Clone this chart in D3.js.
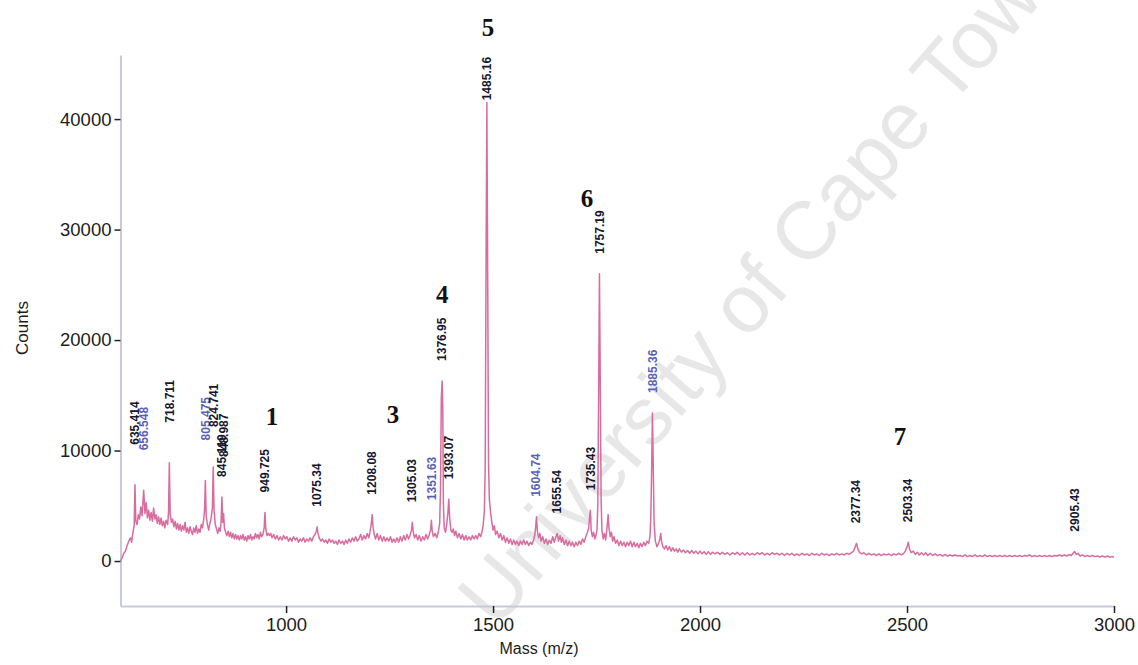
<!DOCTYPE html>
<html lang="en">
	<head>
		<meta charset="utf-8">
		<title>Mass spectrum</title>
		<script type="text/javascript" src="https://cdn.jsdelivr.net/npm/d3@7"></script>
		<style type="text/css">
			body { margin: 0; background: #fff; }
			.axis text { font-family: "Liberation Sans", Arial, sans-serif; font-size: 18.5px; fill: #1c1c1c; }
		</style>
	</head>
	<body>
		<script type="text/javascript">

			//Spectrum trace: [mass, counts]
			var spectrum = [
				[600,0],[604,300],[608,700],[612,900],[616,1400],[620,1800],[624,2100],[627,1700],[630,2600],[633,3200],[635,6900],[637,3600],[640,3300],
				[643,4200],[646,3800],[649,4900],[652,4100],[656,6400],[659,4300],[662,5300],[665,3900],[668,4600],[671,3700],[674,4400],[677,3600],
				[680,4800],[683,3800],[686,4200],[689,3400],[692,4000],[695,3300],[698,3900],[701,3200],[704,3600],[707,3000],[710,3700],[714,3300],
				[716,4400],[718,8900],[720,4300],[723,3500],[726,3800],[729,3100],[732,3600],[735,2900],[738,3400],[741,2800],[744,3300],[747,2700],
				[750,3200],[753,2800],[756,3500],[759,2600],[762,3000],[765,2500],[768,3100],[771,2700],[774,2400],[777,3000],[780,2600],[783,3200],
				[786,2500],[789,2900],[792,2600],[795,3300],[798,3000],[801,3800],[803,4600],[805,7300],[807,4100],[810,3300],[813,2800],[816,3400],
				[819,3900],[822,4800],[824,8500],[826,4600],[829,3300],[832,2900],[835,2500],[838,3000],[841,2700],[843,3600],[845,5800],[847,3500],
				[849,4300],[851,3000],[854,2600],[857,2300],[860,2700],[863,2200],[866,2600],[869,2100],[872,2500],[875,2000],[878,2400],[881,2000],
				[884,2300],[887,1900],[890,2300],[893,2000],[896,2400],[899,1900],[902,2200],[905,1800],[908,2300],[911,2000],[914,2400],[917,1900],
				[920,2200],[923,2000],[926,2500],[929,2100],[932,2400],[935,2000],[938,2600],[941,2200],[944,2400],[947,3000],[949,4400],[951,2900],
				[954,2300],[957,2500],[960,2300],[963,2500],[966,2100],[970,2400],[974,2000],[978,2300],[982,1900],[986,2200],[990,1900],[994,2300],
				[998,2000],[1002,2200],[1006,1800],[1010,2100],[1014,1800],[1018,2200],[1022,1900],[1026,2100],[1030,1700],[1034,2000],[1038,1800],
				[1042,2100],[1046,1700],[1050,2000],[1054,1800],[1058,2100],[1062,1800],[1066,2200],[1070,2400],[1073,2700],[1075,3100],[1077,2500],
				[1080,2100],[1084,1800],[1088,2000],[1092,1700],[1096,1900],[1100,1600],[1104,2000],[1108,1700],[1112,1900],[1116,1600],[1120,1800],
				[1124,1500],[1128,1900],[1132,1600],[1136,1800],[1140,1500],[1144,1900],[1148,1600],[1152,2000],[1156,1700],[1160,2100],[1164,1800],
				[1168,2200],[1172,1800],[1176,2000],[1180,2400],[1184,1900],[1188,2300],[1192,2000],[1196,2500],[1200,2100],[1203,2700],[1206,3400],
				[1208,4200],[1210,3100],[1213,2400],[1216,2000],[1220,2500],[1224,1900],[1228,2300],[1232,1800],[1236,2200],[1240,1800],[1244,2100],
				[1248,1800],[1252,2200],[1256,1700],[1260,2000],[1264,1700],[1268,2100],[1272,1700],[1276,2200],[1280,1800],[1284,2300],[1288,1900],
				[1292,2400],[1296,2000],[1300,2400],[1303,2800],[1305,3500],[1307,2700],[1310,2100],[1314,2400],[1318,1900],[1322,2300],[1326,1800],
				[1330,2200],[1334,1900],[1338,2400],[1342,2000],[1346,2400],[1349,2800],[1351,3700],[1353,2700],[1356,2200],[1360,2500],[1364,2100],
				[1368,2700],[1371,3400],[1373,6500],[1375,14800],[1377,16300],[1378.5,14000],[1380,5200],[1382,3000],[1385,2600],[1388,3300],[1391,4400],
				[1393,5600],[1395,4000],[1398,2800],[1401,2600],[1404,2900],[1407,2300],[1410,2700],[1414,2100],[1418,2500],[1422,2000],[1426,2400],
				[1430,1900],[1434,2300],[1438,1900],[1442,2200],[1446,1900],[1450,2300],[1454,2000],[1458,2300],[1462,2000],[1466,2500],[1470,2200],
				[1473,2600],[1476,3200],[1479,4500],[1481,8500],[1483,26000],[1485,41500],[1487,26000],[1489,9000],[1491,5600],[1494,4400],[1497,3500],
				[1500,2800],[1503,3200],[1506,2400],[1510,2700],[1514,2100],[1518,2500],[1522,1900],[1526,2300],[1530,1700],[1534,2100],[1538,1600],
				[1542,2000],[1546,1500],[1550,1900],[1554,1500],[1558,1800],[1562,1400],[1566,1800],[1570,1500],[1574,1900],[1578,1500],[1582,1800],
				[1586,1400],[1590,1700],[1594,1500],[1598,1900],[1601,2400],[1603,3100],[1605,4000],[1607,2700],[1610,2100],[1613,2500],[1616,1800],
				[1620,2200],[1624,1600],[1628,2000],[1632,1500],[1636,1900],[1640,1600],[1644,2200],[1648,1700],[1651,2100],[1653,2300],[1655,2500],
				[1658,1800],[1662,2300],[1665,1700],[1668,2100],[1672,1500],[1676,1900],[1680,1400],[1684,1800],[1688,1400],[1692,1700],[1696,1300],
				[1700,1700],[1704,1400],[1708,1800],[1712,1500],[1716,2000],[1720,1700],[1724,2200],[1728,2600],[1731,3000],[1733,3900],[1735,4600],
				[1737,2800],[1740,2200],[1743,2600],[1746,2000],[1749,2400],[1751,2800],[1753,5000],[1755,15000],[1757,26000],[1759,16000],[1761,5500],
				[1763,2800],[1766,2000],[1769,2500],[1772,1900],[1775,2900],[1778,4200],[1780,3000],[1783,2200],[1786,2600],[1789,1800],[1792,2200],
				[1796,1600],[1800,1900],[1804,1400],[1808,1800],[1812,1400],[1816,1700],[1820,1300],[1824,1700],[1828,1400],[1832,1800],[1836,1300],
				[1840,1700],[1844,1300],[1848,1600],[1852,1200],[1856,1600],[1860,1300],[1864,1700],[1868,1400],[1872,1800],[1876,1600],[1879,2200],
				[1881,3800],[1883,8000],[1885,13400],[1887,8500],[1889,3500],[1892,1800],[1896,1300],[1900,1600],[1903,2000],[1905,2500],[1907,1800],
				[1910,1300],[1914,1100],[1918,1400],[1922,1000],[1926,1300],[1930,900],[1934,1200],[1938,900],[1942,1100],[1946,800],[1950,1100],
				[1955,800],[1960,1000],[1965,750],[1970,950],[1975,700],[1980,950],[1985,700],[1990,900],[1995,650],[2000,900],[2005,650],[2010,850],
				[2015,600],[2020,850],[2025,600],[2030,800],[2036,650],[2042,800],[2048,600],[2054,800],[2060,600],[2066,750],[2072,550],[2078,750],
				[2084,600],[2090,800],[2096,550],[2102,750],[2108,550],[2114,750],[2120,550],[2126,700],[2132,550],[2138,750],[2144,600],[2150,750],
				[2156,550],[2162,700],[2168,550],[2174,750],[2180,600],[2186,700],[2192,550],[2198,700],[2204,500],[2210,700],[2216,550],[2222,700],
				[2228,500],[2234,650],[2240,500],[2246,700],[2252,550],[2258,650],[2264,500],[2270,700],[2276,550],[2282,650],[2288,500],[2294,700],
				[2300,550],[2306,650],[2312,500],[2318,650],[2324,550],[2330,700],[2336,550],[2342,650],[2348,550],[2354,700],[2360,600],[2366,750],
				[2371,900],[2375,1300],[2378,1600],[2381,1100],[2385,800],[2390,650],[2396,750],[2402,550],[2408,700],[2414,550],[2420,650],[2426,500],
				[2432,650],[2438,500],[2444,650],[2450,550],[2456,650],[2462,500],[2468,650],[2474,550],[2480,700],[2486,550],[2492,700],[2496,900],
				[2500,1300],[2503,1700],[2506,1100],[2510,750],[2515,900],[2520,600],[2525,800],[2530,550],[2535,750],[2540,550],[2545,750],[2550,500],
				[2556,700],[2562,500],[2568,650],[2574,500],[2580,600],[2586,450],[2592,600],[2598,450],[2604,550],[2610,450],[2616,550],[2622,450],
				[2628,500],[2634,400],[2640,550],[2646,400],[2652,500],[2658,400],[2664,550],[2670,400],[2676,500],[2682,400],[2688,550],[2694,400],
				[2700,500],[2706,400],[2712,500],[2718,400],[2724,500],[2730,400],[2736,500],[2742,400],[2748,500],[2754,400],[2760,500],[2766,400],
				[2772,500],[2778,400],[2784,500],[2790,450],[2796,550],[2802,400],[2808,500],[2814,400],[2820,500],[2826,400],[2832,500],[2838,400],
				[2844,500],[2850,400],[2856,500],[2862,450],[2868,550],[2874,450],[2880,550],[2886,450],[2892,600],[2897,500],[2901,700],[2905,850],
				[2909,600],[2913,700],[2918,450],[2924,550],[2930,400],[2936,500],[2942,400],[2948,500],[2954,400],[2960,450],[2966,350],[2972,450],
				[2978,350],[2984,450],[2990,350],[2996,400],[3000,350]
			];

			//Peak labels (m/z) printed above the peaks
			var peakLabels = ["635.414", "656.548", "718.711", "805.475", "824.741", "845.119", "848.987", "949.725",
							  "1075.34", "1208.08", "1305.03", "1351.63", "1376.95", "1393.07", "1485.16", "1604.74",
							  "1655.54", "1735.43", "1757.19", "1885.36", "2377.34", "2503.34", "2905.43"];
			var raisedLabels = ["635.414", "656.548", "718.711", "805.475", "824.741", "848.987"];	//crowded ones sit higher
			var blueLabels = ["656.548", "805.475", "1351.63", "1604.74", "1885.36"];

			//Numbered peak groups: name, mass, counts
			var groupNames = ["1", "3", "4", "5", "6", "7"];
			var groupMasses = [966, 1258, 1377, 1488, 1727, 2483];
			var groupCounts = [13000, 13200, 24100, 48200, 32800, 11200];

			var xTicks = [1000, 1500, 2000, 2500, 3000];
			var yTicks = [0, 10000, 20000, 30000, 40000];

			//Width and height
			var w = 1138;
			var h = 665;

			var xScale = d3.scaleLinear()
							.domain([600, 3000])
							.range([120.5, 1114]);

			var yScale = d3.scaleLinear()
							.domain([-4070, 45800])
							.range([606, 55]);

			//Create SVG element
			var svg = d3.select("body")
						.append("svg")
						.attr("width", w)
						.attr("height", h);

			//Watermark behind everything
			svg.append("text")
			   .attr("transform", "translate(496,630) rotate(-49)")
			   .attr("font-family", "Liberation Sans, Arial, sans-serif")
			   .attr("font-size", "82px")
			   .attr("fill", "#e7e7e7")
			   .text("University of Cape Town");

			//Axes
			var yAxis = d3.axisLeft(yScale)
							.tickValues(yTicks)
							.tickSize(6)
							.tickSizeOuter(0)
							.tickPadding(3)
							.tickFormat(d3.format("d"));

			var xAxis = d3.axisBottom(xScale)
							.tickValues(xTicks)
							.tickSize(7)
							.tickSizeOuter(0)
							.tickPadding(5)
							.tickFormat(d3.format("d"));

			svg.append("g")
				.attr("class", "y axis")
				.attr("transform", "translate(" + xScale(600) + ",0)")
				.call(yAxis);

			svg.append("g")
				.attr("class", "x axis")
				.attr("transform", "translate(0," + yScale(-4070) + ")")
				.call(xAxis);

			svg.selectAll(".axis .domain")
			   .attr("stroke", "#c7cadf")
			   .attr("stroke-width", 2);
			svg.selectAll(".axis .tick line")
			   .attr("stroke", "#222")
			   .attr("stroke-width", 1.5);

			//Axis titles
			svg.append("text")
			   .attr("transform", "translate(28,328) rotate(-90)")
			   .attr("text-anchor", "middle")
			   .attr("font-family", "Liberation Sans, Arial, sans-serif")
			   .attr("font-size", "17px")
			   .attr("fill", "#1c1c1c")
			   .text("Counts");

			svg.append("text")
			   .attr("x", 539)
			   .attr("y", 654)
			   .attr("text-anchor", "middle")
			   .attr("font-family", "Liberation Sans, Arial, sans-serif")
			   .attr("font-size", "16px")
			   .attr("fill", "#1c1c1c")
			   .text("Mass (m/z)");

			//Spectrum trace
			var line = d3.line()
						.x(function(d) { return xScale(d[0]); })
						.y(function(d) { return yScale(d[1]); });

			svg.append("path")
			   .datum(spectrum)
			   .attr("d", line)
			   .attr("fill", "none")
			   .attr("stroke", "#d86c9e")
			   .attr("stroke-width", 1.5)
			   .attr("stroke-linejoin", "round");

			//Peak height near a label = highest trace point within 4 m/z
			var apex = function(m) {
				return d3.max(spectrum, function(d) { return Math.abs(d[0] - m) <= 4 ? d[1] : 0; });
			};

			//Peak labels, rotated, sitting above each peak
			svg.selectAll("text.peak")
			   .data(peakLabels)
			   .enter()
			   .append("text")
			   .attr("class", "peak")
			   .attr("transform", function(d) {
			   		var gap = raisedLabels.indexOf(d) >= 0 ? 40 : 20;
			   		var y = Math.max(yScale(apex(+d)) - gap, yScale(41700));
			   		return "translate(" + (xScale(+d) + 4) + "," + y + ") rotate(-90)";
			   })
			   .attr("font-family", "Liberation Sans, Arial, sans-serif")
			   .attr("font-size", "12px")
			   .attr("font-weight", "bold")
			   .attr("fill", function(d) { return blueLabels.indexOf(d) >= 0 ? "#5a62b4" : "#16162e"; })
			   .text(function(d) { return d; });

			//Group numbers
			svg.selectAll("text.group")
			   .data(groupNames)
			   .enter()
			   .append("text")
			   .attr("class", "group")
			   .attr("x", function(d, i) { return xScale(groupMasses[i]); })
			   .attr("y", function(d, i) { return yScale(groupCounts[i]) + 8; })
			   .attr("text-anchor", "middle")
			   .attr("font-family", "Liberation Serif, Times New Roman, serif")
			   .attr("font-weight", "bold")
			   .attr("font-size", "25px")
			   .attr("fill", "#111")
			   .text(function(d) { return d; });

		</script>
	</body>
</html>
